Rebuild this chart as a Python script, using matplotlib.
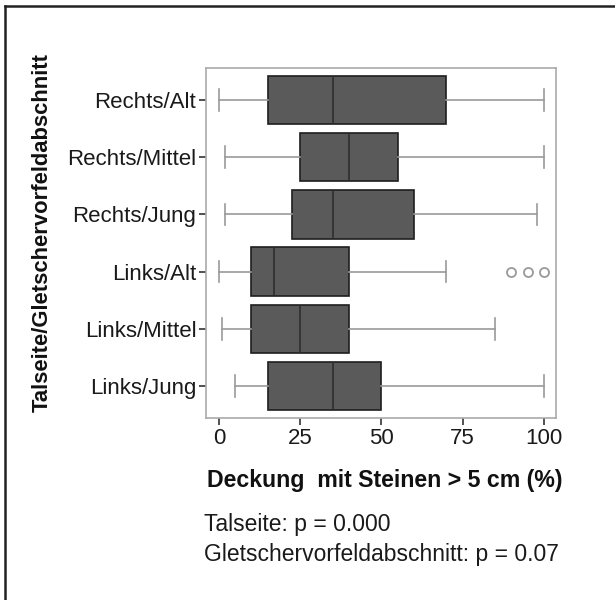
import matplotlib
matplotlib.use("Agg")
import matplotlib.pyplot as plt
from matplotlib.lines import Line2D

plt.rcParams['font.family'] = ['Liberation Sans', 'DejaVu Sans']

categories = ["Rechts/Alt", "Rechts/Mittel", "Rechts/Jung", "Links/Alt", "Links/Mittel", "Links/Jung"]
whislo = [0, 2, 2, 0, 1, 5]
q1 = [15, 25, 22.5, 10, 10, 15]
med = [35, 40, 35, 17, 25, 35]
q3 = [70, 55, 60, 40, 40, 50]
whishi = [100, 100, 98, 70, 85, 100]
fliers = [[], [], [], [90, 95, 100], [], []]
xticks = [0, 25, 50, 75, 100]

fig = plt.figure(figsize=(6.15, 6.0), dpi=100)
ax = fig.add_axes([206/615, 1-418/600, (556-206)/615, (418-68)/600])

stats = []
for i in range(len(categories)):
    stats.append(dict(label=categories[i], whislo=whislo[i], q1=q1[i], med=med[i],
                      q3=q3[i], whishi=whishi[i], fliers=fliers[i]))

ax.bxp(stats, positions=list(range(len(categories))), vert=False, widths=0.845,
       patch_artist=True, capwidths=0.38,
       boxprops=dict(facecolor='#5a5a5a', edgecolor='#1e1e1e', linewidth=1.2),
       medianprops=dict(color='#2e2e2e', linewidth=1.2),
       whiskerprops=dict(color='#9a9a9a', linewidth=1.2),
       capprops=dict(color='#9a9a9a', linewidth=1.2),
       flierprops=dict(marker='o', markerfacecolor='none', markeredgecolor='#9a9a9a',
                       markersize=6.5, markeredgewidth=1.3))

ax.set_xlim(-4, 103.7)
ax.set_ylim(5.56, -0.56)
ax.set_xticks(xticks)
ax.set_xticklabels([str(t) for t in xticks], fontsize=16, color='#1a1a1a')
ax.set_yticks(range(len(categories)))
ax.set_yticklabels(categories, fontsize=16, color='#1a1a1a')
ax.tick_params(axis='both', direction='out', length=5, width=1.2, color='#333333', pad=2)
for s in ax.spines.values():
    s.set_color('#aaaaaa')
    s.set_linewidth(1.2)

ax.set_xlabel("Deckung  mit Steinen > 5 cm (%)", fontsize=16.7, fontweight='bold', color='#111111')
ax.xaxis.set_label_coords(0.51, -0.145)
fig.text(42/615, 1-232/600, "Talseite/Gletschervorfeldabschnitt", rotation=90, fontsize=15.8,
         fontweight='bold', ha='center', va='center', color='#111111')

fig.text(204/615, 1-524/600, "Talseite: p = 0.000", fontsize=16.5, ha='left', va='center', color='#1a1a1a')
fig.text(204/615, 1-554/600, "Gletschervorfeldabschnitt: p = 0.07", fontsize=16.5, ha='left', va='center', color='#1a1a1a')

# outer frame (top and left)
fig.add_artist(Line2D([5/615, 1.0], [1-6/600, 1-6/600], color='#222222', linewidth=1.8, transform=fig.transFigure))
fig.add_artist(Line2D([5/615, 5/615], [0, 1-6/600], color='#222222', linewidth=1.8, transform=fig.transFigure))

fig.savefig("out.png", dpi=100, facecolor='white')
